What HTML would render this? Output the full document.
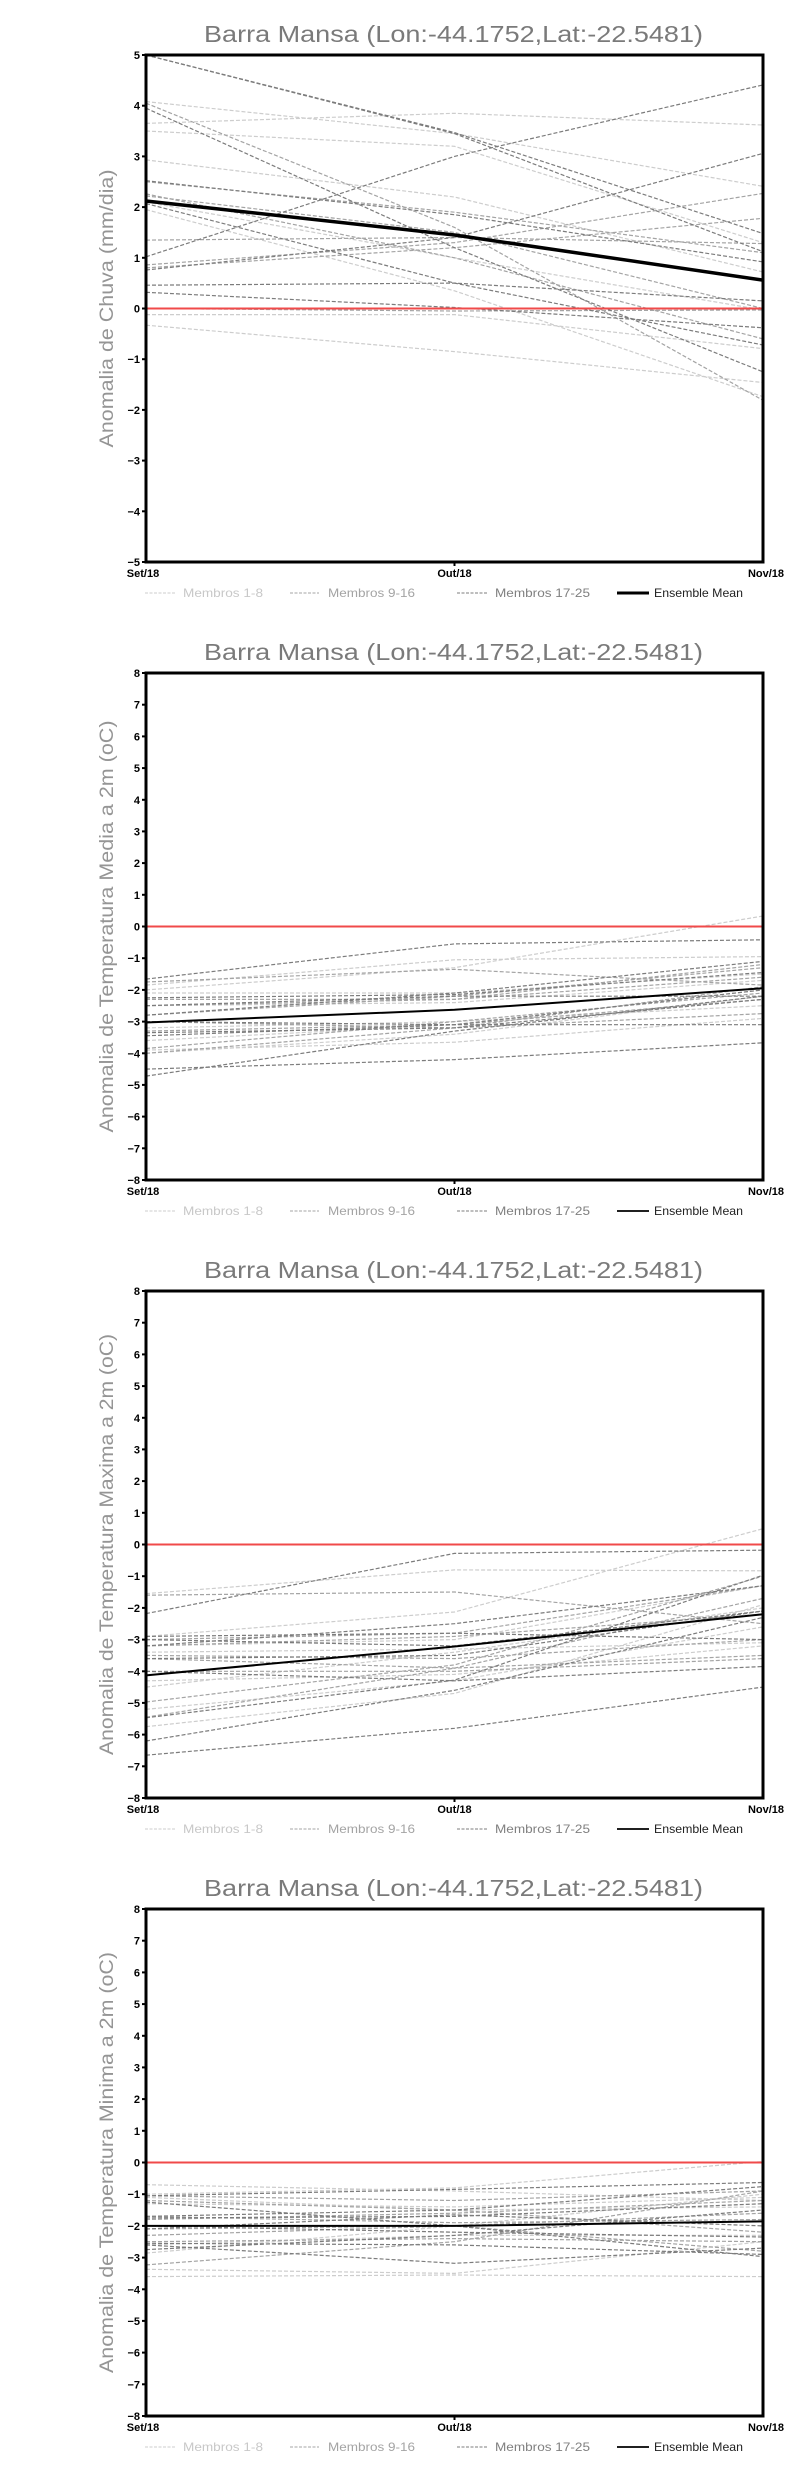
<!DOCTYPE html>
<html>
<head>
<meta charset="utf-8">
<style>
html,body{margin:0;padding:0;background:#fff;}
svg{display:block;}
.l{stroke:#cdcdcd;}
.m{stroke:#a4a4a4;}
.d{stroke:#7c7c7c;}
.mem polyline{fill:none;stroke-width:1.2;stroke-dasharray:4 2;}
.title{font-family:"Liberation Sans",sans-serif;font-size:23px;fill:#7a7a7a;}
.ylab{font-family:"Liberation Sans",sans-serif;font-size:19px;fill:#959595;}
.tk{font-family:"Liberation Sans",sans-serif;font-size:11px;font-weight:bold;fill:#000;}
.lg{font-family:"Liberation Sans",sans-serif;font-size:12px;}
</style>
</head>
<body>
<svg width="800" height="2472" viewBox="0 0 800 2472" xmlns="http://www.w3.org/2000/svg">
<rect x="0" y="0" width="800" height="2472" fill="#fff"/>

<!-- ================= CHART 1 ================= -->
<g transform="translate(0,0)">
<text class="title" x="204" y="42" textLength="499" lengthAdjust="spacingAndGlyphs">Barra Mansa (Lon:-44.1752,Lat:-22.5481)</text>
<text class="ylab" transform="translate(113,308.5) rotate(-90)" x="0" y="0" text-anchor="middle" textLength="278" lengthAdjust="spacingAndGlyphs">Anomalia de Chuva (mm/dia)</text>
<g class="mem" transform="translate(0,308.5)">
<polyline class="l" points="146,-206.9 454.5,-174.9 763,-122.2"/>
<polyline class="l" points="146,-185.1 454.5,-195.2 763,-183.5"/>
<polyline class="l" points="146,-177.5 454.5,-162.2 763,-65.9"/>
<polyline class="l" points="146,-148.6 454.5,-111.5 763,-36.5"/>
<polyline class="l" points="146,-98.9 454.5,-17.7 763,88.2"/>
<polyline class="l" points="146,6.1 454.5,6.1 763,40.1"/>
<polyline class="l" points="146,16.7 454.5,43.1 763,74.0"/>
<polyline class="l" points="146,-106.5 454.5,-50.7 763,1.5"/>
<polyline class="m" points="146,-43.6 454.5,-65.9 763,-115.1"/>
<polyline class="m" points="146,-40.6 454.5,-60.8 763,-90.2"/>
<polyline class="m" points="146,-126.8 454.5,-96.3 763,-55.8"/>
<polyline class="m" points="146,-205.3 454.5,-81.1 763,91.8"/>
<polyline class="m" points="146,-112.6 454.5,-76.1 763,0"/>
<polyline class="m" points="146,0 454.5,2.5 763,1.5"/>
<polyline class="m" points="146,-114.6 454.5,-50.7 763,30.4"/>
<polyline class="m" points="146,-68.4 454.5,-71.0 763,-64.9"/>
<polyline class="d" points="146,-253.5 454.5,-175.9 763,-75.0"/>
<polyline class="d" points="146,-253.5 454.5,-174.9 763,-56.8"/>
<polyline class="d" points="146,-51.7 454.5,-152.1 763,-223.6"/>
<polyline class="d" points="146,-200.3 454.5,-60.8 763,63.4"/>
<polyline class="d" points="146,-127.8 454.5,-93.8 763,-46.6"/>
<polyline class="d" points="146,-38.5 454.5,-71.0 763,-155.1"/>
<polyline class="d" points="146,-23.3 454.5,-25.4 763,-7.6"/>
<polyline class="d" points="146,-16.2 454.5,-1.0 763,19.3"/>
<polyline class="d" points="146,-104.9 454.5,-25.4 763,36.5"/>
</g>
<g transform="translate(0,308.5)">
<line x1="146" y1="0" x2="763" y2="0" stroke="#f04a4a" stroke-width="2"/>
<polyline points="146,-107.5 454.5,-73.5 763,-28.4" style="fill:none;stroke:#000;stroke-width:3.5;stroke-dasharray:none"/>
</g>
<rect x="146" y="55" width="617" height="507" fill="none" stroke="#000" stroke-width="3"/>
<g stroke="#000" stroke-width="2">
<line x1="142" y1="55" x2="146" y2="55"/><line x1="142" y1="105.7" x2="146" y2="105.7"/><line x1="142" y1="156.4" x2="146" y2="156.4"/><line x1="142" y1="207.1" x2="146" y2="207.1"/><line x1="142" y1="257.8" x2="146" y2="257.8"/><line x1="142" y1="308.5" x2="146" y2="308.5"/><line x1="142" y1="359.2" x2="146" y2="359.2"/><line x1="142" y1="409.9" x2="146" y2="409.9"/><line x1="142" y1="460.6" x2="146" y2="460.6"/><line x1="142" y1="511.3" x2="146" y2="511.3"/><line x1="142" y1="562" x2="146" y2="562"/>
<line x1="454.5" y1="562" x2="454.5" y2="566"/>
</g>
<g class="tk" text-anchor="end">
<text x="140" y="59">5</text><text x="140" y="109.7">4</text><text x="140" y="160.4">3</text><text x="140" y="211.1">2</text><text x="140" y="261.8">1</text><text x="140" y="312.5">0</text><text x="140" y="363.2">−1</text><text x="140" y="413.9">−2</text><text x="140" y="464.6">−3</text><text x="140" y="515.3">−4</text><text x="140" y="566">−5</text>
</g>
<g class="tk" text-anchor="middle">
<text x="143" y="577">Set/18</text><text x="454.5" y="577">Out/18</text><text x="766" y="577">Nov/18</text>
</g>
<line x1="145" y1="593" x2="176" y2="593" stroke="#cdcdcd" stroke-width="1" stroke-dasharray="3 1.5"/>
<text class="lg" x="183" y="597" fill="#c8c8c8" textLength="80" lengthAdjust="spacingAndGlyphs">Membros 1-8</text>
<line x1="290" y1="593" x2="319" y2="593" stroke="#a4a4a4" stroke-width="1" stroke-dasharray="3 1.5"/>
<text class="lg" x="328" y="597" fill="#a4a4a4" textLength="87" lengthAdjust="spacingAndGlyphs">Membros 9-16</text>
<line x1="457" y1="593" x2="487" y2="593" stroke="#7c7c7c" stroke-width="1" stroke-dasharray="3 1.5"/>
<text class="lg" x="495" y="597" fill="#808080" textLength="95" lengthAdjust="spacingAndGlyphs">Membros 17-25</text>
<line x1="617" y1="593" x2="649" y2="593" stroke="#000" stroke-width="3"/>
<text class="lg" x="654" y="597" fill="#222" textLength="89" lengthAdjust="spacingAndGlyphs">Ensemble Mean</text>
</g>

<!-- ================= CHART 2 ================= -->
<g transform="translate(0,618)">
<text class="title" x="204" y="42" textLength="499" lengthAdjust="spacingAndGlyphs">Barra Mansa (Lon:-44.1752,Lat:-22.5481)</text>
<text class="ylab" transform="translate(113,308.5) rotate(-90)" x="0" y="0" text-anchor="middle" textLength="412" lengthAdjust="spacingAndGlyphs">Anomalia de Temperatura Media a 2m (oC)</text>
<g class="mem" transform="translate(0,308.5)">
<polyline class="l" points="146,63.4 454.5,41.2 763,-10.5"/>
<polyline class="l" points="146,58.6 454.5,33.3 763,30.1"/>
<polyline class="l" points="146,66.5 454.5,66.5 763,47.5"/>
<polyline class="l" points="146,114.1 454.5,98.2 763,63.4"/>
<polyline class="l" points="146,123.6 454.5,115.7 763,91.9"/>
<polyline class="l" points="146,126.8 454.5,107.7 763,69.7"/>
<polyline class="l" points="146,79.2 454.5,76.1 763,53.9"/>
<polyline class="l" points="146,101.4 454.5,95.1 763,79.2"/>
<polyline class="m" points="146,55.5 454.5,42.8 763,58.6"/>
<polyline class="m" points="146,72.9 454.5,72.9 763,38.0"/>
<polyline class="m" points="146,88.7 454.5,69.7 763,41.2"/>
<polyline class="m" points="146,104.6 454.5,98.2 763,72.9"/>
<polyline class="m" points="146,79.2 454.5,72.9 763,50.7"/>
<polyline class="m" points="146,122.0 454.5,95.1 763,66.5"/>
<polyline class="m" points="146,95.1 454.5,101.4 763,87.1"/>
<polyline class="m" points="146,126.8 454.5,101.4 763,60.2"/>
<polyline class="d" points="146,52.6 454.5,17.4 763,13.3"/>
<polyline class="d" points="146,142.6 454.5,133.1 763,116.3"/>
<polyline class="d" points="146,149.6 454.5,104.6 763,69.7"/>
<polyline class="d" points="146,88.7 454.5,66.5 763,34.9"/>
<polyline class="d" points="146,95.1 454.5,98.2 763,98.2"/>
<polyline class="d" points="146,106.2 454.5,101.4 763,72.9"/>
<polyline class="d" points="146,71.3 454.5,68.1 763,46.0"/>
<polyline class="d" points="146,109.3 454.5,98.2 763,63.4"/>
<polyline class="d" points="146,79.2 454.5,69.7 763,69.7"/>
</g>
<g transform="translate(0,308.5)">
<line x1="146" y1="0" x2="763" y2="0" stroke="#f04a4a" stroke-width="2"/>
<polyline points="146,96.0 454.5,83.3 763,61.8" style="fill:none;stroke:#000;stroke-width:2;stroke-dasharray:none"/>
</g>
<rect x="146" y="55" width="617" height="507" fill="none" stroke="#000" stroke-width="3"/>
<g stroke="#000" stroke-width="2">
<line x1="142" y1="55" x2="146" y2="55"/><line x1="142" y1="86.7" x2="146" y2="86.7"/><line x1="142" y1="118.4" x2="146" y2="118.4"/><line x1="142" y1="150.1" x2="146" y2="150.1"/><line x1="142" y1="181.8" x2="146" y2="181.8"/><line x1="142" y1="213.4" x2="146" y2="213.4"/><line x1="142" y1="245.1" x2="146" y2="245.1"/><line x1="142" y1="276.8" x2="146" y2="276.8"/><line x1="142" y1="308.5" x2="146" y2="308.5"/><line x1="142" y1="340.2" x2="146" y2="340.2"/><line x1="142" y1="371.9" x2="146" y2="371.9"/><line x1="142" y1="403.6" x2="146" y2="403.6"/><line x1="142" y1="435.3" x2="146" y2="435.3"/><line x1="142" y1="466.9" x2="146" y2="466.9"/><line x1="142" y1="498.6" x2="146" y2="498.6"/><line x1="142" y1="530.3" x2="146" y2="530.3"/><line x1="142" y1="562" x2="146" y2="562"/>
<line x1="454.5" y1="562" x2="454.5" y2="566"/>
</g>
<g class="tk" text-anchor="end">
<text x="140" y="59">8</text><text x="140" y="90.7">7</text><text x="140" y="122.4">6</text><text x="140" y="154.1">5</text><text x="140" y="185.8">4</text><text x="140" y="217.4">3</text><text x="140" y="249.1">2</text><text x="140" y="280.8">1</text><text x="140" y="312.5">0</text><text x="140" y="344.2">−1</text><text x="140" y="375.9">−2</text><text x="140" y="407.6">−3</text><text x="140" y="439.3">−4</text><text x="140" y="470.9">−5</text><text x="140" y="502.6">−6</text><text x="140" y="534.3">−7</text><text x="140" y="566">−8</text>
</g>
<g class="tk" text-anchor="middle">
<text x="143" y="577">Set/18</text><text x="454.5" y="577">Out/18</text><text x="766" y="577">Nov/18</text>
</g>
<line x1="145" y1="593" x2="176" y2="593" stroke="#cdcdcd" stroke-width="1" stroke-dasharray="3 1.5"/>
<text class="lg" x="183" y="597" fill="#c8c8c8" textLength="80" lengthAdjust="spacingAndGlyphs">Membros 1-8</text>
<line x1="290" y1="593" x2="319" y2="593" stroke="#a4a4a4" stroke-width="1" stroke-dasharray="3 1.5"/>
<text class="lg" x="328" y="597" fill="#a4a4a4" textLength="87" lengthAdjust="spacingAndGlyphs">Membros 9-16</text>
<line x1="457" y1="593" x2="487" y2="593" stroke="#7c7c7c" stroke-width="1" stroke-dasharray="3 1.5"/>
<text class="lg" x="495" y="597" fill="#808080" textLength="95" lengthAdjust="spacingAndGlyphs">Membros 17-25</text>
<line x1="617" y1="593" x2="649" y2="593" stroke="#000" stroke-width="1.8"/>
<text class="lg" x="654" y="597" fill="#222" textLength="89" lengthAdjust="spacingAndGlyphs">Ensemble Mean</text>
</g>

<!-- ================= CHART 3 ================= -->
<g transform="translate(0,1236)">
<text class="title" x="204" y="42" textLength="499" lengthAdjust="spacingAndGlyphs">Barra Mansa (Lon:-44.1752,Lat:-22.5481)</text>
<text class="ylab" transform="translate(113,308.5) rotate(-90)" x="0" y="0" text-anchor="middle" textLength="421" lengthAdjust="spacingAndGlyphs">Anomalia de Temperatura Maxima a 2m (oC)</text>
<g class="mem" transform="translate(0,308.5)">
<polyline class="l" points="146,91.9 454.5,67.5 763,-15.8"/>
<polyline class="l" points="146,49.1 454.5,25.4 763,26.3"/>
<polyline class="l" points="146,101.4 454.5,95.1 763,41.2"/>
<polyline class="l" points="146,164.8 454.5,136.3 763,82.4"/>
<polyline class="l" points="146,182.2 454.5,148.9 763,60.2"/>
<polyline class="l" points="146,136.3 454.5,129.9 763,101.4"/>
<polyline class="l" points="146,107.7 454.5,104.6 763,98.2"/>
<polyline class="l" points="146,142.6 454.5,107.7 763,63.4"/>
<polyline class="m" points="146,50.7 454.5,47.5 763,79.2"/>
<polyline class="m" points="146,95.1 454.5,88.7 763,41.2"/>
<polyline class="m" points="146,110.9 454.5,114.1 763,95.1"/>
<polyline class="m" points="146,172.7 454.5,123.6 763,53.9"/>
<polyline class="m" points="146,126.8 454.5,126.8 763,114.1"/>
<polyline class="m" points="146,101.4 454.5,91.9 763,69.7"/>
<polyline class="m" points="146,157.5 454.5,120.4 763,31.7"/>
<polyline class="m" points="146,114.1 454.5,123.6 763,110.9"/>
<polyline class="d" points="146,69.1 454.5,8.9 763,5.7"/>
<polyline class="d" points="146,210.7 454.5,183.8 763,142.6"/>
<polyline class="d" points="146,173.3 454.5,135.6 763,30.7"/>
<polyline class="d" points="146,91.9 454.5,88.7 763,95.1"/>
<polyline class="d" points="146,101.4 454.5,79.2 763,41.2"/>
<polyline class="d" points="146,126.8 454.5,136.3 763,122.0"/>
<polyline class="d" points="146,114.1 454.5,110.9 763,66.5"/>
<polyline class="d" points="146,196.5 454.5,145.8 763,72.9"/>
<polyline class="d" points="146,95.1 454.5,101.4 763,66.5"/>
</g>
<g transform="translate(0,308.5)">
<line x1="146" y1="0" x2="763" y2="0" stroke="#f04a4a" stroke-width="2"/>
<polyline points="146,130.9 454.5,102.0 763,69.7" style="fill:none;stroke:#000;stroke-width:2;stroke-dasharray:none"/>
</g>
<rect x="146" y="55" width="617" height="507" fill="none" stroke="#000" stroke-width="3"/>
<g stroke="#000" stroke-width="2">
<line x1="142" y1="55" x2="146" y2="55"/><line x1="142" y1="86.7" x2="146" y2="86.7"/><line x1="142" y1="118.4" x2="146" y2="118.4"/><line x1="142" y1="150.1" x2="146" y2="150.1"/><line x1="142" y1="181.8" x2="146" y2="181.8"/><line x1="142" y1="213.4" x2="146" y2="213.4"/><line x1="142" y1="245.1" x2="146" y2="245.1"/><line x1="142" y1="276.8" x2="146" y2="276.8"/><line x1="142" y1="308.5" x2="146" y2="308.5"/><line x1="142" y1="340.2" x2="146" y2="340.2"/><line x1="142" y1="371.9" x2="146" y2="371.9"/><line x1="142" y1="403.6" x2="146" y2="403.6"/><line x1="142" y1="435.3" x2="146" y2="435.3"/><line x1="142" y1="466.9" x2="146" y2="466.9"/><line x1="142" y1="498.6" x2="146" y2="498.6"/><line x1="142" y1="530.3" x2="146" y2="530.3"/><line x1="142" y1="562" x2="146" y2="562"/>
<line x1="454.5" y1="562" x2="454.5" y2="566"/>
</g>
<g class="tk" text-anchor="end">
<text x="140" y="59">8</text><text x="140" y="90.7">7</text><text x="140" y="122.4">6</text><text x="140" y="154.1">5</text><text x="140" y="185.8">4</text><text x="140" y="217.4">3</text><text x="140" y="249.1">2</text><text x="140" y="280.8">1</text><text x="140" y="312.5">0</text><text x="140" y="344.2">−1</text><text x="140" y="375.9">−2</text><text x="140" y="407.6">−3</text><text x="140" y="439.3">−4</text><text x="140" y="470.9">−5</text><text x="140" y="502.6">−6</text><text x="140" y="534.3">−7</text><text x="140" y="566">−8</text>
</g>
<g class="tk" text-anchor="middle">
<text x="143" y="577">Set/18</text><text x="454.5" y="577">Out/18</text><text x="766" y="577">Nov/18</text>
</g>
<line x1="145" y1="593" x2="176" y2="593" stroke="#cdcdcd" stroke-width="1" stroke-dasharray="3 1.5"/>
<text class="lg" x="183" y="597" fill="#c8c8c8" textLength="80" lengthAdjust="spacingAndGlyphs">Membros 1-8</text>
<line x1="290" y1="593" x2="319" y2="593" stroke="#a4a4a4" stroke-width="1" stroke-dasharray="3 1.5"/>
<text class="lg" x="328" y="597" fill="#a4a4a4" textLength="87" lengthAdjust="spacingAndGlyphs">Membros 9-16</text>
<line x1="457" y1="593" x2="487" y2="593" stroke="#7c7c7c" stroke-width="1" stroke-dasharray="3 1.5"/>
<text class="lg" x="495" y="597" fill="#808080" textLength="95" lengthAdjust="spacingAndGlyphs">Membros 17-25</text>
<line x1="617" y1="593" x2="649" y2="593" stroke="#000" stroke-width="1.8"/>
<text class="lg" x="654" y="597" fill="#222" textLength="89" lengthAdjust="spacingAndGlyphs">Ensemble Mean</text>
</g>

<!-- ================= CHART 4 ================= -->
<g transform="translate(0,1854)">
<text class="title" x="204" y="42" textLength="499" lengthAdjust="spacingAndGlyphs">Barra Mansa (Lon:-44.1752,Lat:-22.5481)</text>
<text class="ylab" transform="translate(113,308.5) rotate(-90)" x="0" y="0" text-anchor="middle" textLength="421" lengthAdjust="spacingAndGlyphs">Anomalia de Temperatura Minima a 2m (oC)</text>
<g class="mem" transform="translate(0,308.5)">
<polyline class="l" points="146,31.7 454.5,25.4 763,-1.0"/>
<polyline class="l" points="146,22.2 454.5,28.5 763,38.0"/>
<polyline class="l" points="146,90.6 454.5,63.4 763,31.7"/>
<polyline class="l" points="146,114.1 454.5,112.5 763,114.1"/>
<polyline class="l" points="146,34.9 454.5,47.5 763,44.4"/>
<polyline class="l" points="146,82.4 454.5,72.9 763,72.9"/>
<polyline class="l" points="146,106.8 454.5,110.9 763,79.2"/>
<polyline class="l" points="146,41.2 454.5,44.4 763,34.9"/>
<polyline class="m" points="146,38.0 454.5,47.5 763,69.7"/>
<polyline class="m" points="146,57.0 454.5,50.7 763,38.0"/>
<polyline class="m" points="146,66.5 454.5,63.4 763,50.7"/>
<polyline class="m" points="146,79.2 454.5,76.1 763,79.2"/>
<polyline class="m" points="146,33.3 454.5,38.0 763,28.5"/>
<polyline class="m" points="146,72.9 454.5,63.4 763,88.7"/>
<polyline class="m" points="146,53.9 454.5,60.2 763,57.0"/>
<polyline class="m" points="146,102.4 454.5,79.2 763,28.5"/>
<polyline class="d" points="146,33.3 454.5,26.9 763,20.0"/>
<polyline class="d" points="146,53.9 454.5,47.5 763,24.1"/>
<polyline class="d" points="146,82.4 454.5,100.8 763,85.6"/>
<polyline class="d" points="146,55.5 454.5,53.9 763,41.2"/>
<polyline class="d" points="146,63.4 454.5,69.7 763,74.5"/>
<polyline class="d" points="146,80.8 454.5,82.4 763,91.9"/>
<polyline class="d" points="146,66.5 454.5,52.3 763,63.4"/>
<polyline class="d" points="146,39.6 454.5,63.4 763,94.1"/>
<polyline class="d" points="146,87.1 454.5,72.9 763,47.5"/>
</g>
<g transform="translate(0,308.5)">
<line x1="146" y1="0" x2="763" y2="0" stroke="#f04a4a" stroke-width="2"/>
<polyline points="146,63.4 454.5,63.4 763,58.9" style="fill:none;stroke:#000;stroke-width:2;stroke-dasharray:none"/>
</g>
<rect x="146" y="55" width="617" height="507" fill="none" stroke="#000" stroke-width="3"/>
<g stroke="#000" stroke-width="2">
<line x1="142" y1="55" x2="146" y2="55"/><line x1="142" y1="86.7" x2="146" y2="86.7"/><line x1="142" y1="118.4" x2="146" y2="118.4"/><line x1="142" y1="150.1" x2="146" y2="150.1"/><line x1="142" y1="181.8" x2="146" y2="181.8"/><line x1="142" y1="213.4" x2="146" y2="213.4"/><line x1="142" y1="245.1" x2="146" y2="245.1"/><line x1="142" y1="276.8" x2="146" y2="276.8"/><line x1="142" y1="308.5" x2="146" y2="308.5"/><line x1="142" y1="340.2" x2="146" y2="340.2"/><line x1="142" y1="371.9" x2="146" y2="371.9"/><line x1="142" y1="403.6" x2="146" y2="403.6"/><line x1="142" y1="435.3" x2="146" y2="435.3"/><line x1="142" y1="466.9" x2="146" y2="466.9"/><line x1="142" y1="498.6" x2="146" y2="498.6"/><line x1="142" y1="530.3" x2="146" y2="530.3"/><line x1="142" y1="562" x2="146" y2="562"/>
<line x1="454.5" y1="562" x2="454.5" y2="566"/>
</g>
<g class="tk" text-anchor="end">
<text x="140" y="59">8</text><text x="140" y="90.7">7</text><text x="140" y="122.4">6</text><text x="140" y="154.1">5</text><text x="140" y="185.8">4</text><text x="140" y="217.4">3</text><text x="140" y="249.1">2</text><text x="140" y="280.8">1</text><text x="140" y="312.5">0</text><text x="140" y="344.2">−1</text><text x="140" y="375.9">−2</text><text x="140" y="407.6">−3</text><text x="140" y="439.3">−4</text><text x="140" y="470.9">−5</text><text x="140" y="502.6">−6</text><text x="140" y="534.3">−7</text><text x="140" y="566">−8</text>
</g>
<g class="tk" text-anchor="middle">
<text x="143" y="577">Set/18</text><text x="454.5" y="577">Out/18</text><text x="766" y="577">Nov/18</text>
</g>
<line x1="145" y1="593" x2="176" y2="593" stroke="#cdcdcd" stroke-width="1" stroke-dasharray="3 1.5"/>
<text class="lg" x="183" y="597" fill="#c8c8c8" textLength="80" lengthAdjust="spacingAndGlyphs">Membros 1-8</text>
<line x1="290" y1="593" x2="319" y2="593" stroke="#a4a4a4" stroke-width="1" stroke-dasharray="3 1.5"/>
<text class="lg" x="328" y="597" fill="#a4a4a4" textLength="87" lengthAdjust="spacingAndGlyphs">Membros 9-16</text>
<line x1="457" y1="593" x2="487" y2="593" stroke="#7c7c7c" stroke-width="1" stroke-dasharray="3 1.5"/>
<text class="lg" x="495" y="597" fill="#808080" textLength="95" lengthAdjust="spacingAndGlyphs">Membros 17-25</text>
<line x1="617" y1="593" x2="649" y2="593" stroke="#000" stroke-width="1.8"/>
<text class="lg" x="654" y="597" fill="#222" textLength="89" lengthAdjust="spacingAndGlyphs">Ensemble Mean</text>
</g>
</svg>
</body>
</html>
